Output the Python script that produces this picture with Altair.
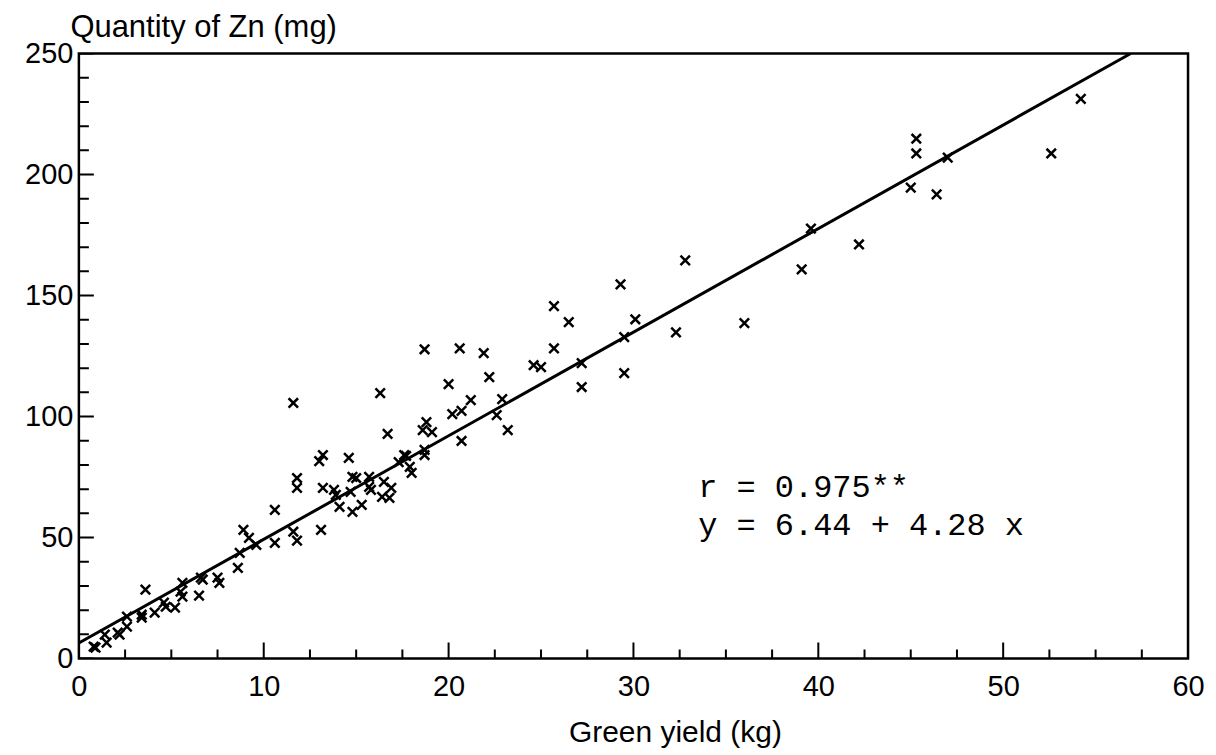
import altair as alt
import pandas as pd

# Scatter data (Green yield kg, Zn mg)
green_yield = [54.2, 52.6, 47.0, 45.3, 45.3, 45.0, 46.4,
               39.6, 42.2, 39.1, 36.0, 32.8, 29.3, 25.7,
               26.5, 30.1, 32.3, 25.7, 29.5, 27.2, 29.5,
               27.2, 18.7, 20.6, 21.9, 22.2, 24.6, 25.0,
               20.0, 21.2, 20.2, 20.7, 22.9, 22.6, 23.2,
               20.7, 18.8, 18.6, 19.1, 18.7, 18.7, 17.6,
               11.6, 16.3, 16.7, 13.2, 13.0, 14.6, 11.8,
               11.8, 13.2, 14.8, 15.0, 15.7, 13.8, 13.9,
               14.7, 15.7, 15.8, 16.5, 16.9, 16.4, 16.8,
               17.3, 17.7, 17.9, 18.0, 14.1, 14.8, 15.3,
               10.6, 13.1, 11.6, 11.8, 8.9, 9.2, 10.6, 9.6,
               3.6, 8.7, 8.6, 7.5, 7.6, 6.6, 6.7,
               6.5, 5.6, 5.5, 5.6, 5.2, 4.6, 4.7, 4.1,
               3.4, 3.4, 2.6, 2.6, 2.1, 2.2, 1.4, 1.5,
               0.8, 0.9]
zn_quantity = [231.3, 208.7, 207.0, 214.8, 208.7, 194.6, 191.8,
               177.7, 171.1, 160.8, 138.6, 164.5, 154.6, 145.6,
               139.0, 140.2, 134.8, 128.2, 132.8, 122.1, 117.9,
               112.2, 127.8, 128.2, 126.2, 116.3, 121.2, 120.4,
               113.4, 106.8, 101.0, 102.3, 107.2, 100.6, 94.4,
               89.9, 97.7, 94.4, 93.6, 86.2, 84.1, 84.1,
               105.6, 109.7, 92.8, 84.1, 81.6, 82.9, 74.6,
               70.5, 70.5, 75.1, 74.6, 75.1, 69.7, 67.6,
               68.9, 70.9, 69.7, 73.0, 70.5, 66.8, 66.4,
               81.2, 83.7, 79.2, 76.7, 62.7, 60.6, 63.5,
               61.4, 53.2, 52.4, 48.7, 53.2, 49.9, 47.8, 47.0,
               28.5, 43.7, 37.5, 33.4, 31.3, 33.4, 32.6,
               26.0, 31.3, 27.6, 25.6, 21.0, 23.1, 21.4, 19.0,
               18.1, 16.9, 17.3, 13.2, 10.7, 9.9, 9.9, 6.6,
               4.9, 4.5]

# Regression line y = 6.44 + 4.28 x (end points)
line_x = [0.0, 56.9]
line_y = [6.44, 250.0]

# Axis labels and tick positions
x_labels = [0, 10, 20, 30, 40, 50, 60]
y_labels = [0, 50, 100, 150, 200, 250]
x_minor = [2.5, 5, 7.5, 12.5, 15, 17.5, 22.5, 25, 27.5, 32.5, 35, 37.5,
           42.5, 45, 47.5, 52.5, 55, 57.5]
y_minor = [10, 20, 30, 40, 60, 70, 80, 90, 110, 120, 130, 140, 160, 170,
           180, 190, 210, 220, 230, 240]

# Annotation
ann_x = [33.5, 33.5]
ann_y = [66.8, 51.1]
ann_text = ["r = 0.975**", "y = 6.44 + 4.28 x"]

pts = pd.DataFrame({"x": green_yield, "y": zn_quantity})
line_df = pd.DataFrame({"x": line_x, "y": line_y})
xmaj = pd.DataFrame({"x": x_labels})
xmin = pd.DataFrame({"x": x_minor})
ymaj = pd.DataFrame({"y": y_labels})
ymin = pd.DataFrame({"y": y_minor})
ann = pd.DataFrame({"x": ann_x, "y": ann_y, "t": ann_text})

FONT = "Liberation Sans"

xscale = alt.Scale(domain=[0, 60], nice=False, zero=False)
yscale = alt.Scale(domain=[0, 250], nice=False, zero=False)

xaxis = alt.Axis(values=x_labels, ticks=False, domain=False, grid=False,
                 labelFont=FONT, labelFontSize=29, labelColor="black",
                 labelPadding=14, title="Green yield (kg)", titleFont=FONT,
                 titleFontSize=30, titleFontWeight="normal", titleColor="black",
                 titleX=597, titleY=83, titleBaseline="alphabetic",
                 titleAlign="center", labelFlush=False)
yaxis = alt.Axis(values=y_labels, ticks=False, domain=False, grid=False,
                 labelFont=FONT, labelFontSize=29, labelColor="black",
                 labelPadding=6, title="Quantity of Zn (mg)", titleFont=FONT,
                 titleFontSize=31, titleFontWeight="normal", titleColor="black",
                 titleAngle=0, titleAlign="left", titleBaseline="alphabetic",
                 titleX=-9, titleY=-17, labelFlush=False)

xcross = "M-1,-1L1,1M1,-1L-1,1"

points = alt.Chart(pts).mark_point(
    shape=xcross, size=90, strokeWidth=2.5, color="black", filled=False, opacity=1
).encode(
    x=alt.X("x:Q", scale=xscale, axis=xaxis),
    y=alt.Y("y:Q", scale=yscale, axis=yaxis),
)

reg = alt.Chart(line_df).mark_line(color="black", strokeWidth=3, clip=True).encode(
    x="x:Q", y="y:Q"
)

xt_major = alt.Chart(xmaj).mark_tick(orient="vertical", size=32, thickness=2,
                                     color="black", clip=True, opacity=1).encode(
    x="x:Q", y=alt.datum(0))
xt_minor = alt.Chart(xmin).mark_tick(orient="vertical", size=18, thickness=2,
                                     color="black", clip=True, opacity=1).encode(
    x="x:Q", y=alt.datum(0))
yt_major = alt.Chart(ymaj).mark_tick(orient="horizontal", size=30, thickness=2,
                                     color="black", clip=True, opacity=1).encode(
    y="y:Q", x=alt.datum(0))
yt_minor = alt.Chart(ymin).mark_tick(orient="horizontal", size=20, thickness=2,
                                     color="black", clip=True, opacity=1).encode(
    y="y:Q", x=alt.datum(0))

text = alt.Chart(ann).mark_text(font="Liberation Mono", fontSize=32, align="left",
                                baseline="alphabetic", color="black").encode(
    x="x:Q", y="y:Q", text="t:N")

chart = alt.layer(reg, xt_major, xt_minor, yt_major, yt_minor, points, text).properties(
    width=1111, height=606,
    autosize=alt.AutoSizeParams(type="none"),
    padding={"left": 71, "top": 45, "right": 20, "bottom": 95},
    background="white",
).configure_view(stroke="black", strokeWidth=2.5)

chart.save("out.html", embed_options={"renderer": "svg", "actions": False})
